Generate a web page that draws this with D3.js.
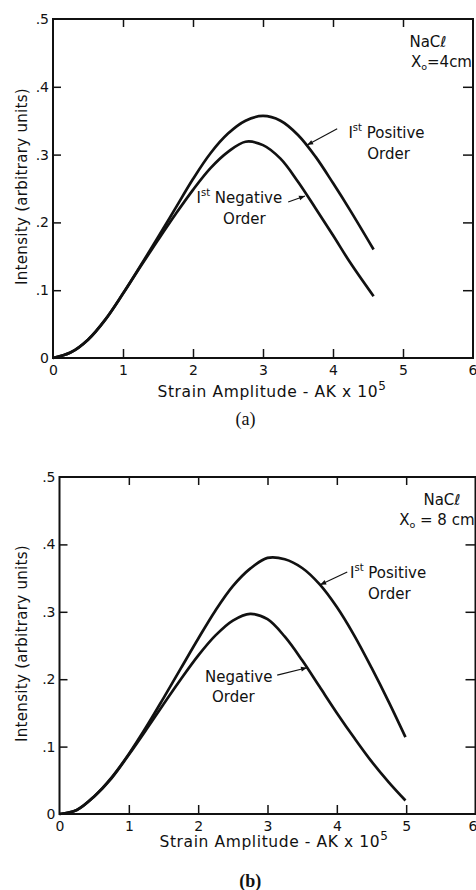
<!DOCTYPE html>
<html>
<head>
<meta charset="utf-8">
<script src="https://cdn.jsdelivr.net/npm/d3@7"></script>
<style>
  html, body { margin: 0; padding: 0; background: #fff; }
  svg { display: block; }
  text { font-family: "DejaVu Sans", "Noto Sans", sans-serif; fill: #111; }
</style>
</head>
<body>
<svg id="chart" width="476" height="890"></svg>
<script>
// ---------- data ----------
const xTicks = [0, 1, 2, 3, 4, 5, 6];
const yTicks = [0, 0.1, 0.2, 0.3, 0.4, 0.5];
const yTickLabels = ["0", ".1", ".2", ".3", ".4", ".5"];

// panel (a): X0 = 4 cm
const xA = [0, 0.25, 0.5, 0.75, 1.0, 1.25, 1.5, 1.75, 2.0, 2.25, 2.5, 2.75, 3.0, 3.25, 3.5, 3.75, 4.0, 4.25, 4.58];
const posA = [0, 0.008, 0.027, 0.057, 0.095, 0.136, 0.178, 0.221, 0.264, 0.302, 0.331, 0.350, 0.357, 0.350, 0.329, 0.297, 0.258, 0.217, 0.160];
const negA = [0, 0.008, 0.027, 0.057, 0.095, 0.135, 0.174, 0.212, 0.248, 0.280, 0.304, 0.319, 0.314, 0.294, 0.260, 0.221, 0.181, 0.140, 0.091];

// panel (b): X0 = 8 cm
const xB = [0, 0.25, 0.5, 0.75, 1.0, 1.25, 1.5, 1.75, 2.0, 2.25, 2.5, 2.75, 3.0, 3.25, 3.5, 3.75, 4.0, 4.25, 4.5, 4.75, 4.99];
const posB = [0, 0.006, 0.026, 0.054, 0.089, 0.129, 0.172, 0.216, 0.260, 0.302, 0.338, 0.364, 0.380, 0.378, 0.365, 0.341, 0.307, 0.265, 0.217, 0.166, 0.114];
const negB = [0, 0.006, 0.026, 0.053, 0.088, 0.125, 0.163, 0.200, 0.235, 0.265, 0.287, 0.297, 0.289, 0.263, 0.228, 0.189, 0.150, 0.113, 0.078, 0.047, 0.020];

const panels = [
  { left: 53, right: 473, top: 19, bottom: 358, xs: [xA, xA], ys: [posA, negA],
    caption: "(a)", captionBold: false, capDy: 67, titleDy: 39, titleX: 272,
    naclX: 428, xoText: "=4cm" },
  { left: 59.5, right: 475.5, top: 477, bottom: 814, xs: [xB, xB], ys: [posB, negB],
    caption: "(b)", captionBold: true, capDy: 73, titleDy: 33, titleX: 274,
    naclX: 442, xoText: " = 8 cm" }
];

const svg = d3.select("#chart");

function drawPanel(p) {
  const x = d3.scaleLinear().domain([0, 6]).range([p.left, p.right]);
  const y = d3.scaleLinear().domain([0, 0.5]).range([p.bottom, p.top]);
  const g = svg.append("g");

  // curves
  const line = d3.line().x(d => x(d[0])).y(d => y(d[1])).curve(d3.curveCatmullRom.alpha(0.5));
  p.ys.forEach((vals, i) => {
    const pts = p.xs[i].map((xv, j) => [xv, vals[j]]);
    g.append("path").attr("d", line(pts))
      .attr("fill", "none").attr("stroke", "#111").attr("stroke-width", 2.7)
      .attr("stroke-linecap", "butt");
  });

  // axes
  const bottomAxis = d3.axisBottom(x).tickValues(xTicks).tickSize(-9).tickPadding(7)
    .tickFormat(d => String(d));
  const gb = g.append("g").attr("transform", `translate(0,${p.bottom})`).call(bottomAxis);
  gb.select(".domain").remove();
  gb.selectAll(".tick line").attr("stroke", "#111").attr("stroke-width", 1.5)
    .filter(d => d === 0 || d === 6).remove();
  gb.selectAll(".tick text").attr("font-size", 14).attr("fill", "#111")
    .attr("text-anchor", d => d === 6 ? "end" : "middle")
    .attr("dx", d => d === 6 ? (476 - p.right + 1) : 0)
    .style("font-family", "DejaVu Sans, sans-serif");

  const topAxis = d3.axisTop(x).tickValues([1, 2, 3, 4, 5]).tickSize(-8).tickFormat("");
  const gt = g.append("g").attr("transform", `translate(0,${p.top})`).call(topAxis);
  gt.select(".domain").remove();
  gt.selectAll(".tick line").attr("stroke", "#111").attr("stroke-width", 1.5);

  const leftAxis = d3.axisLeft(y).tickValues(yTicks).tickSize(-8).tickPadding(4)
    .tickFormat((d, i) => yTickLabels[i]);
  const gl = g.append("g").attr("transform", `translate(${p.left},0)`).call(leftAxis);
  gl.select(".domain").remove();
  gl.selectAll(".tick line").attr("stroke", "#111").attr("stroke-width", 1.5)
    .filter(d => d === 0 || d === 0.5).remove();
  gl.selectAll(".tick text").attr("font-size", 14).attr("fill", "#111")
    .style("font-family", "DejaVu Sans, sans-serif");

  const rightAxis = d3.axisRight(y).tickValues([0.1, 0.2, 0.3, 0.4]).tickSize(-10).tickFormat("");
  const gr = g.append("g").attr("transform", `translate(${p.right},0)`).call(rightAxis);
  gr.select(".domain").remove();
  gr.selectAll(".tick line").attr("stroke", "#111").attr("stroke-width", 1.5);

  // frame
  g.append("rect").attr("x", p.left).attr("y", p.top)
    .attr("width", p.right - p.left).attr("height", p.bottom - p.top)
    .attr("fill", "none").attr("stroke", "#111").attr("stroke-width", 2);

  // x axis title
  const xt = g.append("text").attr("x", p.titleX).attr("y", p.bottom + p.titleDy)
    .attr("text-anchor", "middle").attr("font-size", 15.5).attr("letter-spacing", 0.6);
  xt.append("tspan").text("Strain  Amplitude - AK x 10");
  xt.append("tspan").attr("dy", -7).attr("font-size", 12).text("5");

  // y axis title
  const ymid = (p.top + p.bottom) / 2 - 2;
  g.append("text").attr("transform", `translate(27,${ymid}) rotate(-90)`)
    .attr("text-anchor", "middle").attr("font-size", 15).attr("letter-spacing", 0.3)
    .text("Intensity  (arbitrary  units)");

  // caption
  g.append("text").attr("x", x(2.75)).attr("y", p.bottom + p.capDy)
    .attr("text-anchor", "middle").attr("font-size", 18)
    .attr("font-weight", p.captionBold ? "bold" : "normal")
    .style("font-family", "Liberation Serif, serif").text(p.caption);

  // NaCl / X0 label
  g.append("text").attr("x", p.naclX).attr("y", p.top + 28)
    .attr("text-anchor", "middle").attr("font-size", 15).text("NaCℓ");
  const xo = g.append("text").attr("x", p.right - 1).attr("y", p.top + 48)
    .attr("text-anchor", "end").attr("font-size", 15);
  xo.append("tspan").text("X");
  xo.append("tspan").attr("dy", 3).attr("font-size", 9.5).text("o");
  xo.append("tspan").attr("dy", -3).text(p.xoText);

  return { x, y, g };
}

function label(g, x0, y0, word, sup) {
  const t = g.append("text").attr("x", x0).attr("y", y0).attr("font-size", 15);
  if (sup) {
    t.append("tspan").text("I");
    t.append("tspan").attr("dy", -7).attr("font-size", 10).text("st");
    t.append("tspan").attr("dy", 7).text(" " + word);
  } else {
    t.append("tspan").text(word);
  }
  return t;
}

function arrow(g, x1, y1, x2, y2) {
  g.append("line").attr("x1", x1).attr("y1", y1).attr("x2", x2).attr("y2", y2)
    .attr("stroke", "#111").attr("stroke-width", 1.1);
  const a = Math.atan2(y2 - y1, x2 - x1);
  const L = 6, W = 2.4;
  const bx = x2 - L * Math.cos(a), by = y2 - L * Math.sin(a);
  const pts = [[x2, y2], [bx - W * Math.sin(a), by + W * Math.cos(a)], [bx + W * Math.sin(a), by - W * Math.cos(a)]];
  g.append("path").attr("d", "M" + pts.map(q => q.join(",")).join("L") + "Z").attr("fill", "#111");
}

// panel a
const A = drawPanel(panels[0]);
label(A.g, A.x(4.22), A.y(0.324), "Positive", true);
label(A.g, A.x(4.49), A.y(0.294), "Order", false);
arrow(A.g, A.x(4.06), A.y(0.338), A.x(3.63), A.y(0.314));
label(A.g, A.x(2.05), A.y(0.229), "Negative", true);
label(A.g, A.x(2.43), A.y(0.198), "Order", false);
arrow(A.g, A.x(3.36), A.y(0.230), A.x(3.60), A.y(0.239));

// panel b
const B = drawPanel(panels[1]);
label(B.g, B.x(4.19), B.y(0.350), "Positive", true);
label(B.g, B.x(4.45), B.y(0.319), "Order", false);
arrow(B.g, B.x(4.15), B.y(0.359), B.x(3.76), B.y(0.340));
label(B.g, B.x(2.1), B.y(0.196), "Negative", false);
label(B.g, B.x(2.2), B.y(0.166), "Order", false);
arrow(B.g, B.x(3.14), B.y(0.206), B.x(3.57), B.y(0.217));
</script>
</body>
</html>
